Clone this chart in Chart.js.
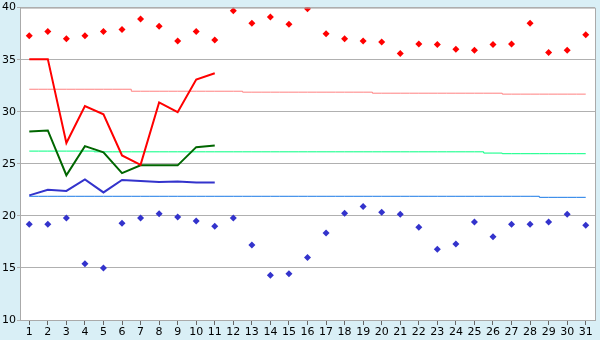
<!DOCTYPE html>
<html>
<head>
<meta charset="utf-8">
<script src="https://cdn.jsdelivr.net/npm/chart.js@4/dist/chart.umd.min.js"></script>
<style>
  html, body { margin: 0; padding: 0; background: #d9eff6; }
  #wrap { width: 600px; height: 340px; position: relative; }
</style>
</head>
<body>
<div id="wrap"><canvas id="temp-chart" width="600" height="340"></canvas></div>
<script>
// Days of the month
const days = Array.from({ length: 31 }, (_, i) => String(i + 1));

// Daily maximum / minimum (diamonds)
const dailyMax = [37.3, 37.7, 37.0, 37.3, 37.7, 37.9, 38.9, 38.2, 36.8, 37.7, 36.9,
                  39.7, 38.5, 39.1, 38.4, 39.9, 37.5, 37.0, 36.8, 36.7, 35.6, 36.5,
                  36.45, 36.0, 35.9, 36.45, 36.5, 38.5, 35.7, 35.9, 37.4];
const dailyMin = [19.2, 19.2, 19.8, 15.4, 15.0, 19.3, 19.8, 20.2, 19.9, 19.5, 19.0,
                  19.8, 17.2, 14.3, 14.45, 16.0, 18.35, 20.25, 20.9, 20.35, 20.15, 18.9,
                  16.8, 17.3, 19.4, 18.0, 19.2, 19.2, 19.4, 20.15, 19.1];

// Running values for the first 11 days
const runMax  = [35.05, 35.05, 27.0, 30.55, 29.75, 25.8, 24.9, 30.9, 29.95, 33.1, 33.7];
const runMean = [28.1, 28.2, 23.9, 26.7, 26.1, 24.1, 24.85, 24.85, 24.85, 26.6, 26.76];
const runMin  = [21.97, 22.5, 22.4, 23.5, 22.25, 23.45, 23.35, 23.25, 23.3, 23.2, 23.2];

// Normals
const normMax  = [32.16, 32.16, 32.16, 32.16, 32.16, 32.16, 31.97, 31.97, 31.97, 31.97, 31.97,
                  31.97, 31.88, 31.88, 31.88, 31.88, 31.88, 31.88, 31.88, 31.78, 31.78, 31.78,
                  31.78, 31.78, 31.78, 31.78, 31.69, 31.69, 31.69, 31.69, 31.69];
const normMean = [26.22, 26.22, 26.22, 26.22, 26.15, 26.15, 26.15, 26.15, 26.15, 26.15, 26.15,
                  26.15, 26.15, 26.15, 26.15, 26.15, 26.15, 26.15, 26.15, 26.15, 26.15, 26.15,
                  26.15, 26.15, 26.15, 26.03, 25.97, 25.97, 25.97, 25.97, 25.97];
const normMin  = [21.88, 21.88, 21.88, 21.88, 21.88, 21.88, 21.88, 21.88, 21.88, 21.88, 21.88,
                  21.88, 21.88, 21.88, 21.88, 21.88, 21.88, 21.88, 21.88, 21.88, 21.88, 21.88,
                  21.88, 21.88, 21.88, 21.88, 21.88, 21.88, 21.78, 21.78, 21.78];

const yTicks = [10, 15, 20, 25, 30, 35, 40];

// white plot area + grey frame
const plotFrame = {
    id: 'plotFrame',
    beforeDraw(chart) {
        const a = chart.chartArea;
        chart.ctx.save();
        chart.ctx.fillStyle = '#ffffff';
        chart.ctx.fillRect(a.left, a.top, a.right - a.left, a.bottom - a.top);
        chart.ctx.restore();
    },
    afterDraw(chart) {
        const a = chart.chartArea;
        const ctx = chart.ctx;
        ctx.save();
        ctx.strokeStyle = '#aaaaaa';
        ctx.lineWidth = 1;
        ctx.beginPath();
        ctx.moveTo(a.left, a.top + 0.5);
        ctx.lineTo(a.right + 0.5, a.top + 0.5);
        ctx.lineTo(a.right + 0.5, a.bottom);
        ctx.stroke();
        ctx.restore();
    }
};

const points = (data, color) => ({
    type: 'line', data: data, showLine: false,
    pointStyle: 'rectRot', pointRadius: 3.5, pointBorderWidth: 0,
    pointBackgroundColor: color, borderColor: color
});
const line = (data, color, width, stepped) => ({
    type: 'line', data: data, borderColor: color, borderWidth: width,
    pointRadius: 0, tension: 0, fill: false, stepped: stepped || false
});

new Chart(document.getElementById('temp-chart'), {
    type: 'line',
    data: {
        labels: days,
        datasets: [
            points(dailyMax, '#ff0000'),
            points(dailyMin, '#3333cc'),
            line(runMax, '#ff0000', 2),
            line(runMean, '#006600', 2),
            line(runMin, '#3333cc', 2),
            line(normMax, '#ff8080', 1, 'middle'),
            line(normMean, '#00ff80', 1, 'middle'),
            line(normMin, '#1a7ae6', 1, 'middle')
        ]
    },
    options: {
        responsive: false,
        animation: false,
        events: [],
        layout: { padding: { top: 5, right: 5, left: 0, bottom: 0 } },
        plugins: { legend: { display: false }, tooltip: { enabled: false } },
        scales: {
            x: {
                offset: true,
                grid: { offset: false, drawOnChartArea: false, drawTicks: true, tickLength: 5, color: '#666666' },
                border: { color: '#aaaaaa' },
                ticks: { color: '#000', font: { family: 'DejaVu Sans', size: 11 }, padding: 1, maxRotation: 0, autoSkip: false },
                afterFit(scale) { scale.height = 20; }
            },
            y: {
                min: 10, max: 40,
                afterBuildTicks(scale) { scale.ticks = yTicks.map(v => ({ value: v })); },
                grid: { color: '#b0b0b0', tickLength: 3 },
                border: { color: '#aaaaaa' },
                ticks: { color: '#000', font: { family: 'DejaVu Sans', size: 11 }, padding: 1 },
                afterFit(scale) { scale.width = 20; }
            }
        }
    },
    plugins: [plotFrame]
});
</script>
</body>
</html>
